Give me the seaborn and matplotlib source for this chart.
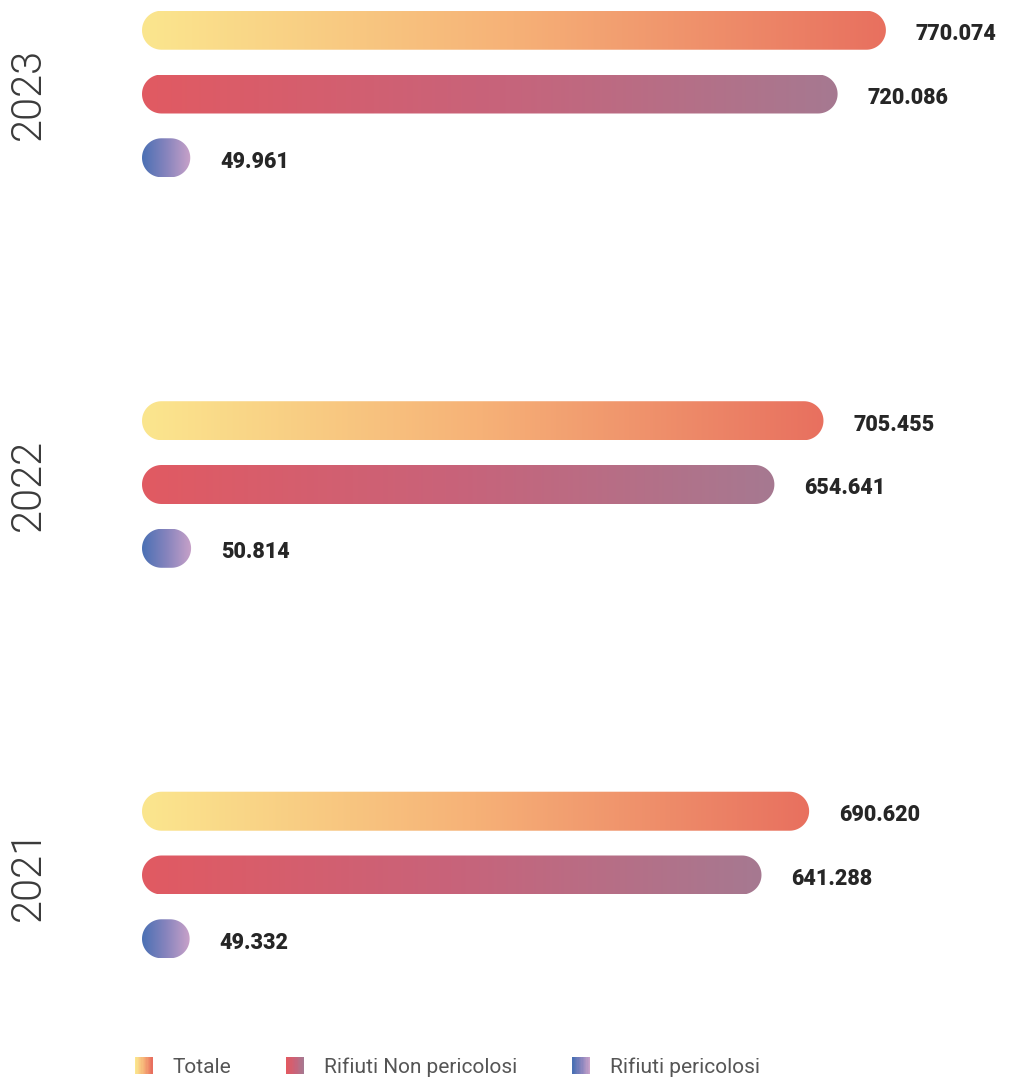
import numpy as np
import pandas as pd
import matplotlib
matplotlib.use("Agg")
import matplotlib.pyplot as plt
import seaborn as sns
from matplotlib.patches import Polygon, Rectangle, Patch
from matplotlib.colors import LinearSegmentedColormap
from matplotlib.legend_handler import HandlerBase

# ---------------- data ----------------
years = ["2023", "2022", "2021"]
categories = ["Totale", "Rifiuti Non pericolosi", "Rifiuti pericolosi"]
totale = [770074, 705455, 690620]
non_pericolosi = [720086, 654641, 641288]
pericolosi = [49961, 50814, 49332]

grad_stops = {
    "Totale": ["#FBE68E", "#F6B177", "#E8705F"],
    "Rifiuti Non pericolosi": ["#E15A62", "#C8637A", "#A67991"],
    "Rifiuti pericolosi": ["#4A70B4", "#8784BD", "#C9A2C9"],
}

df = pd.DataFrame({
    "Anno": years * 3,
    "Categoria": np.repeat(categories, len(years)),
    "Tonnellate": totale + non_pericolosi + pericolosi,
})

# ---------------- style ----------------
sns.set_style("white")
plt.rcParams["font.family"] = ["Roboto", "DejaVu Sans"]

W, H = 1016, 1082
fig = plt.figure(figsize=(W / 100, H / 100), dpi=100)
ax_left_px = 60
ax = fig.add_axes([ax_left_px / W, 0, 1 - ax_left_px / W, 1])

sns.barplot(data=df, y="Anno", x="Tonnellate", hue="Categoria",
            order=years, hue_order=categories, orient="h",
            width=0.49, dodge=True, legend=False, ax=ax,
            palette=[grad_stops[c][1] for c in categories])

# geometry of the layout
x0_px = 142
px_per_x = 0.000966
y0_px = 94
px_per_y = 390.5
xlim = ((ax_left_px - x0_px) / px_per_x, (W - x0_px) / px_per_x)
ylim = ((H - y0_px) / px_per_y, -y0_px / px_per_y)
ax.set_xlim(*xlim)
ax.set_ylim(*ylim)

p = ax.transData.transform([[0, 0], [1, 1]])
sx = abs(p[1, 0] - p[0, 0])
sy = abs(p[1, 1] - p[0, 1])


def pill_vertices(x, w, yc, thick_px):
    r_px = thick_px / 2
    r = r_px / sx               # radius in x units
    ry = r_px / sy              # radius in y units
    r = min(r, w / 2)
    th = np.linspace(-np.pi / 2, np.pi / 2, 40)
    right = np.column_stack([x + w - r + r * np.cos(th), yc + ry * np.sin(th)])
    th2 = np.linspace(np.pi / 2, 3 * np.pi / 2, 40)
    left = np.column_stack([x + r + r * np.cos(th2), yc + ry * np.sin(th2)])
    return np.vstack([right, left])


thick_px = 39
for cat, cont in zip(categories, ax.containers):
    cmap = LinearSegmentedColormap.from_list(cat, grad_stops[cat])
    img = cmap(np.linspace(0, 1, 256))[None, :, :]
    for bar in cont:
        bar.set_visible(False)
        x = bar.get_x()
        w = bar.get_width()
        yc = bar.get_y() + bar.get_height() / 2
        h = thick_px / sy
        pill = Polygon(pill_vertices(x, w, yc, thick_px), closed=True,
                       facecolor="none", edgecolor="none", zorder=2)
        ax.add_patch(pill)
        im = ax.imshow(img, extent=[x, x + w, yc + h / 2, yc - h / 2],
                       aspect="auto", interpolation="bilinear", zorder=2)
        im.set_clip_path(pill)
        val = int(round(w))
        ax.annotate(f"{val:,}".replace(",", "."), xy=(x + w, yc),
                    xytext=(30 * 0.72, -4 * 0.72), textcoords="offset points",
                    ha="left", va="center", fontsize=15.5, fontweight=900,
                    color="#262626")

ax.set_xlim(*xlim)
ax.set_ylim(*ylim)
ax.set_xlabel("")
ax.set_ylabel("")
ax.set_xticks([])
for s in ax.spines.values():
    s.set_visible(False)
ax.tick_params(axis="y", length=0, pad=11 * 0.72)
for lbl in ax.get_yticklabels():
    lbl.set_rotation(90)
    lbl.set_fontsize(30)
    lbl.set_fontweight(300)
    lbl.set_color("#3a3a3a")
    lbl.set_va("center")
    lbl.set_ha("right")


# ---------------- legend ----------------
class GradHandler(HandlerBase):
    def __init__(self, stops):
        super().__init__()
        self.cmap = LinearSegmentedColormap.from_list("h", stops)

    def create_artists(self, legend, orig_handle, xdescent, ydescent,
                       width, height, fontsize, trans):
        n = 14
        arts = []
        for i in range(n):
            arts.append(Rectangle((-xdescent + width * i / n, -ydescent),
                                  width / n * 1.05, height,
                                  facecolor=self.cmap(i / (n - 1)),
                                  edgecolor="none", transform=trans))
        return arts


handles = [Patch(label=c) for c in categories]
hmap = {h: GradHandler(grad_stops[c]) for h, c in zip(handles, categories)}
fig.legend(handles, categories, handler_map=hmap, loc="center left",
           bbox_to_anchor=(135 / W, 1 - 1067 / H), bbox_transform=fig.transFigure,
           ncol=3, frameon=False, fontsize=15, handlelength=0.85,
           handleheight=0.85, handletextpad=0.95, columnspacing=2.65,
           borderpad=0, borderaxespad=0, labelcolor="#555555")

fig.savefig("out.png", dpi=100)
